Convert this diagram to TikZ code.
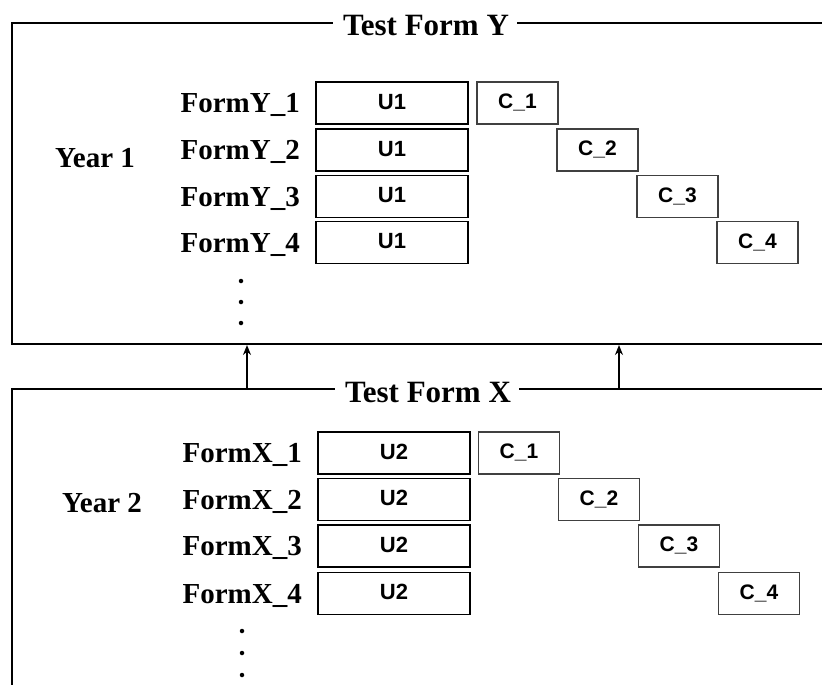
\documentclass[tikz,border=0pt]{standalone}
\usepackage{fontspec}
\setmainfont{Liberation Serif}
\setsansfont{Liberation Sans}
\usetikzlibrary{arrows.meta}
\begin{document}
\begin{tikzpicture}[x=1pt,y=-1pt,
  frame/.style={line width=2pt},
  ubox/.style={draw, line width=1.8pt, minimum width=152pt, minimum height=42pt, inner sep=0pt,
    text depth=3pt, font=\sffamily\bfseries\fontsize{22}{24}\selectfont},
  cbox/.style={draw=black!75, line width=1.4pt, minimum width=81pt, minimum height=42pt, inner sep=0pt,
    text depth=3pt, font=\sffamily\bfseries\fontsize{21}{24}\selectfont},
  lbl/.style={anchor=east, inner sep=0pt, font=\bfseries\fontsize{29}{30}\selectfont},
  yr/.style={inner sep=0pt, font=\bfseries\fontsize{29}{30}\selectfont},
  ttl/.style={inner sep=0pt, font=\bfseries\fontsize{31}{32}\selectfont},
  vdot/.style={circle, fill, inner sep=0pt, minimum size=4.5pt},
  arr/.style={-{Stealth[length=10pt,width=8pt]}, line width=1.5pt}]

\useasboundingbox (0,0) rectangle (822,685);

% ---------- Top frame (Year 1) ----------
\coordinate (yTL) at (12,23);
\coordinate (yBL) at (12,344);
\coordinate (yTR) at (830,23);
\coordinate (yBR) at (830,344);
\node[ttl] (titY) at (426,26) {Test Form Y};
\draw[frame] ([xshift=-10pt]yTL -| titY.west) -- (yTL) -- (yBL) -- (yBR);
\draw[frame] ([xshift=8pt]yTR -| titY.east) -- (yTR);

\node[yr] (yr1) at (95,158) {Year 1};
\foreach \i/\y in {1/103,2/150,3/196.5,4/242.5} {
  \node[ubox] (uy\i) at (392,\y) {U1};
  \node[lbl] (ly\i) at (300,\y+2) {FormY\_\i};
  \node[cbox] (cy\i) at (437.5+80*\i,\y) {C\_\i};
}
\node[vdot] (dy1) at (241,281) {};
\node[vdot] (dy2) at (241,302) {};
\node[vdot] (dy3) at (241,323) {};

% ---------- Bottom frame (Year 2) ----------
\coordinate (xTL) at (12,389);
\coordinate (xBL) at (12,700);
\coordinate (xTR) at (830,389);
\node[ttl] (titX) at (428,392) {Test Form X};
\draw[frame] ([xshift=-10pt]xTL -| titX.west) -- (xTL) -- (xBL);
\draw[frame] ([xshift=8pt]xTR -| titX.east) -- (xTR);

\node[yr] (yr2) at (102,503) {Year 2};
\foreach \i/\y in {1/453,2/499.5,3/546,4/593.5} {
  \node[ubox] (ux\i) at (394,\y) {U2};
  \node[lbl] (lx\i) at (302,\y+2) {FormX\_\i};
  \node[cbox] (cx\i) at (439+80*\i,\y) {C\_\i};
}
\node[vdot] (dx1) at (242,631) {};
\node[vdot] (dx2) at (242,653) {};
\node[vdot] (dx3) at (242,675) {};

% ---------- Arrows between frames ----------
\coordinate (a1s) at (247,389);
\coordinate (a1e) at (247,345);
\coordinate (a2s) at (619,389);
\coordinate (a2e) at (619,345);
\draw[arr] (a1s) -- (a1e);
\draw[arr] (a2s) -- (a2e);
\end{tikzpicture}
\end{document}
